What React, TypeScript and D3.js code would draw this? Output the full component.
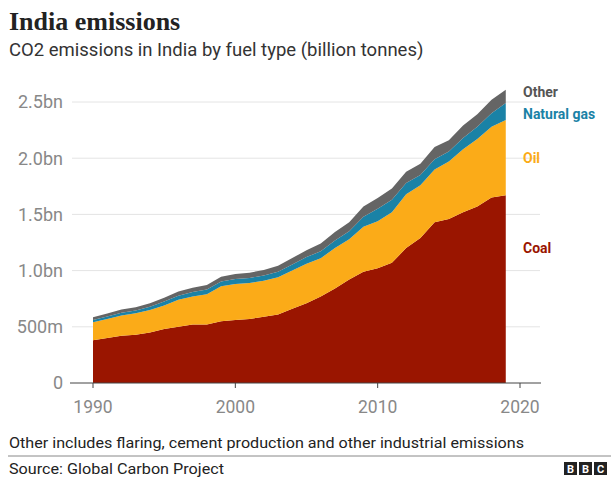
import React from "react";
import * as d3 from "d3";

const years = [1990,1991,1992,1993,1994,1995,1996,1997,1998,1999,2000,2001,2002,2003,2004,2005,2006,2007,2008,2009,2010,2011,2012,2013,2014,2015,2016,2017,2018,2019];
const coal = [0.38,0.40,0.42,0.43,0.45,0.48,0.50,0.52,0.52,0.55,0.56,0.57,0.59,0.61,0.66,0.71,0.77,0.84,0.92,0.99,1.02,1.07,1.20,1.29,1.43,1.46,1.52,1.57,1.65,1.67];
const oil = [0.16,0.17,0.18,0.19,0.20,0.21,0.24,0.25,0.27,0.31,0.32,0.32,0.32,0.33,0.34,0.35,0.34,0.36,0.36,0.40,0.42,0.45,0.48,0.47,0.47,0.51,0.56,0.60,0.63,0.67];
const gas = [0.020,0.022,0.025,0.026,0.028,0.035,0.037,0.040,0.042,0.042,0.045,0.045,0.046,0.050,0.054,0.060,0.062,0.068,0.070,0.090,0.110,0.110,0.100,0.090,0.090,0.090,0.100,0.110,0.120,0.150];
const other = [0.025,0.026,0.028,0.029,0.031,0.034,0.036,0.038,0.040,0.043,0.045,0.046,0.050,0.053,0.057,0.062,0.070,0.075,0.080,0.090,0.095,0.100,0.100,0.100,0.110,0.100,0.110,0.110,0.120,0.120];

const seriesKeys = ["coal", "oil", "gas", "other"];
const seriesLabels = ["Coal", "Oil", "Natural gas", "Other"];
const seriesColors = ["#9a1500", "#fbab18", "#1a82a6", "#656565"];
const yTicks = [0, 0.5, 1.0, 1.5, 2.0, 2.5];
const yTickLabels = ["0", "500m", "1.0bn", "1.5bn", "2.0bn", "2.5bn"];
const xTicks = [1990, 2000, 2010, 2020];

const SANS = "Roboto, 'Open Sans', sans-serif";

export default function App() {
  const rows = years.map((yr, i) => ({ year: yr, coal: coal[i], oil: oil[i], gas: gas[i], other: other[i] }));
  const x = d3.scaleLinear().domain([1990, 2020]).range([93, 520]);
  const y = d3.scaleLinear().domain([0, 2.5]).range([383, 102]);
  const stack = d3.stack<any>().keys(seriesKeys);
  const layers = stack(rows);
  const area = d3.area<any>()
    .x((d) => x(d.data.year))
    .y0((d) => y(d[0]))
    .y1((d) => y(d[1]));

  const last = layers.map((l) => l[l.length - 1]);
  const labelY = [
    last[0][1] - 0.47,
    (last[1][0] + last[1][1]) / 2 - 0.0,
    last[2][1] - 0.1,
    last[3][1] - 0.02,
  ];

  return (
    <svg width={611} height={480} style={{ position: "absolute", left: 0, top: 0, background: "#fff" }} fontFamily={SANS}>
      <text x={9} y={30} fontFamily="'Liberation Serif', 'DejaVu Serif', serif" fontWeight="bold" fontSize={26} fill="#222">India emissions</text>
      <text x={9} y={56} fontSize={18.5} fill="#333">CO2 emissions in India by fuel type (billion tonnes)</text>

      {yTicks.map((t, i) => (
        <g key={t}>
          {t > 0 && <line x1={72} x2={540} y1={y(t)} y2={y(t)} stroke="#e4e4e4" strokeWidth={1} />}
          <text x={63} y={y(t)} dy="0.35em" textAnchor="end" fontSize={18} fill="#888">{yTickLabels[i]}</text>
        </g>
      ))}

      {layers.map((l, i) => (
        <path key={seriesKeys[i]} d={area(l) || ""} fill={seriesColors[i]} />
      ))}

      <line x1={70} x2={541} y1={y(0)} y2={y(0)} stroke="#444" strokeWidth={1} />
      {xTicks.map((t) => (
        <g key={t}>
          <line x1={x(t)} x2={x(t)} y1={y(0)} y2={y(0) + 5} stroke="#444" />
          <text x={x(t)} y={413} textAnchor="middle" fontSize={17.5} fill="#888">{t}</text>
        </g>
      ))}

      {seriesLabels.map((lab, i) => (
        <text key={lab} x={523} y={y(labelY[i])} dy="0.35em" fontSize={14} fontWeight="bold" fill={i === 3 ? "#555" : seriesColors[i]}>{lab}</text>
      ))}

      <text x={9} y={448} fontSize={14.5} fill="#222" textLength={515} lengthAdjust="spacingAndGlyphs">Other includes flaring, cement production and other industrial emissions</text>
      <line x1={8} x2={611} y1={456} y2={456} stroke="#888" strokeWidth={1} />
      <text x={9} y={474} fontSize={14.5} fill="#222" textLength={215} lengthAdjust="spacingAndGlyphs">Source: Global Carbon Project</text>
      {["B", "B", "C"].map((c, i) => (
        <g key={i}>
          <rect x={564 + i * 15} y={462} width={13} height={13} fill="#222" />
          <text x={564 + i * 15 + 6.5} y={472.5} textAnchor="middle" fontSize={11} fontWeight="bold" fill="#fff">{c}</text>
        </g>
      ))}
    </svg>
  );
}
